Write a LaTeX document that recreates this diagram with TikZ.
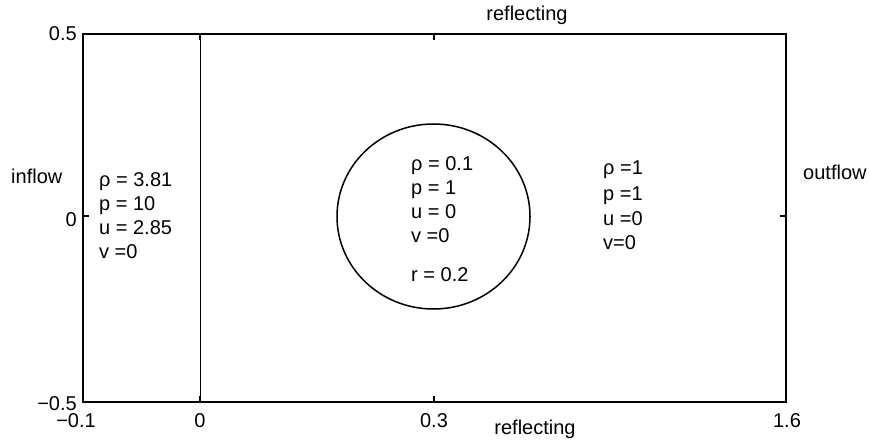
\documentclass[tikz,border=0pt]{standalone}
\usepackage{fontspec}
\setmainfont{Liberation Sans}
\begin{document}
\begin{tikzpicture}[x=1pt,y=-1pt,
  txt/.style={inner sep=0pt, font=\fontsize{20}{24}\selectfont},
  lw/.style={txt, anchor=base west},
  lc/.style={txt, anchor=base},
  lr/.style={txt, anchor=base east},
  frame/.style={line width=2pt},
  tickl/.style={line width=1.3pt}]
\useasboundingbox (0,0) rectangle (870,441);
% axes box
\draw[frame] (83,34) rectangle (786,402);
\coordinate (vtop) at (200,34);
\coordinate (vbot) at (200,402);
\draw[line width=1pt] (vtop) -- (vbot);
% ticks
\draw[tickl] (200,34) -- (200,40);
\draw[tickl] (200,402) -- (200,396);
\draw[tickl] (434,34) -- (434,40);
\draw[tickl] (434,402) -- (434,396);
\draw[tickl] (83,216) -- (89,216);
\draw[tickl] (786,216) -- (780,216);
% circle
\draw[line width=1.5pt] (433.5,216.5) ellipse [x radius=96.5, y radius=92.5];
% tick labels
\node[lr] (y1) at (77,40.5) {0.5};
\node[lr] (y0) at (77,226) {0};
\node[lr] (ym) at (77,410) {−0.5};
\node[lc] (xm) at (76,427) {−0.1};
\node[lc] (x0) at (200,427) {0};
\node[lc] (x3) at (434,427) {0.3};
\node[lc] (x16) at (787,427) {1.6};
% boundary labels
\node[lc] (rtop) at (527,20.5) {reflecting};
\node[lc] (rbot) at (535,434) {reflecting};
\node[lw] (inflow) at (11,183) {inflow};
\node[lw] (outflow) at (803,179) {outflow};
% left state
\node[lw] (l1) at (99,186) {ρ = 3.81};
\node[lw] (l2) at (99,210) {p = 10};
\node[lw] (l3) at (99,234) {u = 2.85};
\node[lw] (l4) at (99,258) {v =0};
% bubble state
\node[lw] (c1) at (411,170) {ρ = 0.1};
\node[lw] (c2) at (411,194) {p = 1};
\node[lw] (c3) at (411,218) {u = 0};
\node[lw] (c4) at (411,242) {v =0};
\node[lw] (c5) at (411,281) {r = 0.2};
% right state
\node[lw] (r1) at (603,175) {ρ =1};
\node[lw] (r2) at (603,200) {p =1};
\node[lw] (r3) at (603,225) {u =0};
\node[lw] (r4) at (603,249) {v=0};
\end{tikzpicture}
\end{document}
